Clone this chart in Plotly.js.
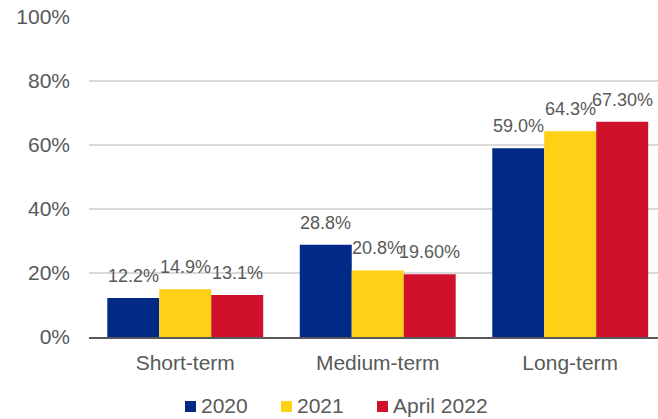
<!DOCTYPE html>
<html>
<head>
<meta charset="utf-8">
<script src="https://cdn.plot.ly/plotly-3.0.1.min.js"></script>
<style>
  html, body { margin: 0; padding: 0; background: #fff; }
  #chart { width: 658px; height: 419px; }
</style>
</head>
<body>
<div id="chart"></div>
<script>
const categories = ["Short-term", "Medium-term", "Long-term"];
const seriesNames = ["2020", "2021", "April 2022"];
const values2020 = [0.122, 0.288, 0.590];
const values2021 = [0.149, 0.208, 0.643];
const valuesApr2022 = [0.131, 0.196, 0.673];
const labels2020 = ["12.2%", "28.8%", "59.0%"];
const labels2021 = ["14.9%", "20.8%", "64.3%"];
const labelsApr2022 = ["13.1%", "19.60%", "67.30%"];
const yTickVals = [0, 0.2, 0.4, 0.6, 0.8, 1.0];
const yTickText = ["0%", "20%", "40%", "60%", "80%", "100%"];

const colors = ["#002A86", "#FDD116", "#D0112B"];
const textColor = "#595959";
const font = "Arial, 'Liberation Sans', sans-serif";

const allValues = [values2020, values2021, valuesApr2022];
const allLabels = [labels2020, labels2021, labelsApr2022];

const W = 658, H = 419;
const M = { l: 89, r: 0, t: 17, b: 82 };
const plotW = W - M.l - M.r, plotH = H - M.t - M.b;
const px2x = p => (p - M.l) / plotW;
const py2y = p => (H - M.b - p) / plotH;

const traces = allValues.map((vals, i) => ({
  type: "bar",
  name: seriesNames[i],
  x: categories,
  y: vals,
  marker: { color: colors[i], line: { width: 0 } },
  hoverinfo: "skip",
  showlegend: false
}));

const barPx = 52;
const annotations = [];
allValues.forEach((vals, i) => {
  vals.forEach((v, j) => {
    annotations.push({
      x: categories[j], y: v, xref: "x", yref: "y",
      text: allLabels[i][j], showarrow: false,
      yanchor: "bottom", xanchor: "center",
      xshift: (i - 1) * barPx, yshift: 10,
      font: { family: font, size: 18, color: textColor }
    });
  });
});

// custom legend (swatch + label), laid out horizontally
const legendSwatchLeft = [185, 281, 377];
const shapes = [];
seriesNames.forEach((name, i) => {
  const sx = legendSwatchLeft[i];
  shapes.push({
    type: "rect", xref: "paper", yref: "paper",
    x0: px2x(sx), x1: px2x(sx + 11), y0: py2y(412), y1: py2y(401),
    fillcolor: colors[i], line: { width: 0 }
  });
  annotations.push({
    xref: "paper", yref: "paper", x: px2x(sx + 14), y: py2y(405.5),
    xanchor: "left", yanchor: "middle", showarrow: false,
    text: name, font: { family: font, size: 21, color: textColor }
  });
});

const layout = {
  width: W, height: H,
  margin: M,
  paper_bgcolor: "#fff", plot_bgcolor: "#fff",
  barmode: "group", bargap: 0.19, bargroupgap: 0,
  font: { family: font, color: textColor },
  showlegend: false,
  xaxis: {
    type: "category", range: [-0.5, 2.456],
    showgrid: false, showline: true, linecolor: "#595959", linewidth: 2,
    ticks: "", ticklabelstandoff: 6,
    tickfont: { family: font, size: 21, color: textColor },
    fixedrange: true
  },
  yaxis: {
    range: [0, 1], tickvals: yTickVals, ticktext: yTickText,
    showgrid: true, gridcolor: "#D9D9D9", gridwidth: 1.3,
    zeroline: false, showline: false, ticks: "",
    ticklabelstandoff: 18,
    tickfont: { family: font, size: 21, color: textColor },
    fixedrange: true
  },
  shapes: shapes,
  annotations: annotations
};

Plotly.newPlot("chart", traces, layout, { displayModeBar: false, staticPlot: true });
</script>
</body>
</html>
